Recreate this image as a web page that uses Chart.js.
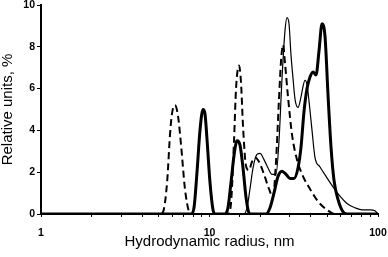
<!DOCTYPE html>
<html>
<head>
<meta charset="utf-8">
<script src="https://cdn.jsdelivr.net/npm/chart.js@4/dist/chart.umd.min.js"></script>
<style>
  html, body { margin: 0; padding: 0; background: #fff; }
  #wrap { width: 388px; height: 257px; }
</style>
</head>
<body>
<div id="wrap"><canvas id="sizeChart"></canvas></div>
<script>
// hydrodynamic radius (nm) and relative units (%)
const dashedRadius = [1, 5.09, 5.30, 5.60, 5.83, 5.99, 6.24, 6.50, 6.78, 7.15, 7.56, 7.77,
  12.87, 13.41, 13.98, 14.37, 14.97, 15.38, 15.81, 16.47, 17.16, 17.87, 18.62, 19.67, 21.06,
  22.55, 23.82, 24.81, 25.85, 26.57, 27.31, 28.07, 29.24, 30.88, 33.06, 35.89, 39.49, 44.06,
  49.82, 55.56, 100];
const dashedValue = [0, 0, 0.1, 1.5, 3.8, 4.8, 5.2, 4.7, 3.3, 1.2, 0.1, 0,
  0, 0.5, 3.5, 6.0, 7.1, 6.3, 4.2, 2.3, 2.1, 2.5, 2.7, 2.5, 1.9,
  1.2, 0.8, 2.5, 5.5, 7.3, 8.1, 7.2, 5.6, 3.8, 2.6, 1.8, 1.2, 0.6,
  0.2, 0, 0];

const thickRadius = [1, 7.77, 8.09, 8.43, 8.78, 9.15, 9.40, 9.66, 10.07, 10.49, 10.78,
  12.36, 12.87, 13.41, 13.98, 14.56, 15.17, 15.81, 16.47, 17.16, 17.63,
  21.64, 22.87, 24.14, 25.50, 26.94, 28.45, 30.05, 31.72, 33.51, 34.92, 36.38, 37.91,
  39.49, 41.15, 42.86, 44.66, 46.53, 48.48, 50.51, 52.62, 54.83, 57.89, 61.99, 65.47, 100];
const thickValue = [0, 0, 0.3, 2.0, 4.0, 5.0, 4.8, 3.6, 1.5, 0.2, 0,
  0, 0.3, 1.5, 2.8, 3.5, 3.3, 2.2, 0.8, 0.05, 0,
  0, 0.3, 1.0, 1.8, 2.05, 1.9, 1.7, 1.7, 2.2, 3.2, 4.9, 6.0,
  6.55, 6.8, 6.65, 7.8, 9.1, 8.5, 5.7, 3.2, 1.6, 0.7, 0.1, 0, 0];

const thinRadius = [1, 16.02, 16.70, 17.39, 18.12, 19.14, 19.94, 21.06, 22.25, 23.49,
  24.81, 25.85, 26.94, 28.07, 28.84, 29.64, 30.46, 31.30, 32.17, 33.51, 34.92, 35.89,
  36.89, 37.91, 38.96, 40.59, 42.28, 45.28, 49.14, 54.07, 59.50, 65.47, 73.04, 80.35,
  89.65, 95.98, 100];
const thinValue = [0, 0, 0.3, 1.2, 2.2, 2.85, 2.9, 2.6, 2.2, 1.9,
  1.9, 3.5, 6.5, 8.8, 9.4, 9.1, 7.6, 6.5, 5.5, 5.1, 5.6, 6.1,
  6.4, 6.2, 5.4, 4.0, 2.7, 2.25, 1.8, 1.3, 0.85, 0.5, 0.3, 0.2,
  0.2, 0.15, 0];

const xLabels = [1, 10, 100];
const yMin = 0, yMax = 10, yStep = 2;

function pts(xs, ys) {
  return xs.map((x, i) => ({ x: x, y: ys[i] }));
}

const lineStyle = {
  borderColor: '#000',
  pointRadius: 0,
  fill: false,
  cubicInterpolationMode: 'monotone'
};

const tickFont = { family: 'Liberation Sans, Arial, sans-serif', size: 10.5, weight: 'bold' };
const titleFont = { family: 'Liberation Sans, Arial, sans-serif', size: 15, lineHeight: 1 };

new Chart(document.getElementById('sizeChart'), {
  type: 'line',
  data: {
    datasets: [
      Object.assign({ data: pts(thinRadius, thinValue), borderWidth: 1.2 }, lineStyle),
      Object.assign({ data: pts(dashedRadius, dashedValue), borderWidth: 2, borderDash: [7, 4] }, lineStyle),
      Object.assign({ data: pts(thickRadius, thickValue), borderWidth: 3 }, lineStyle)
    ]
  },
  options: {
    responsive: true,
    maintainAspectRatio: false,
    animation: false,
    layout: { padding: { top: 5, right: 10, left: 0, bottom: 0 } },
    plugins: { legend: { display: false }, tooltip: { enabled: false } },
    scales: {
      x: {
        type: 'logarithmic',
        min: 1,
        max: 100,
        afterFit: (s) => { s.height = 43; s.paddingLeft = 0; s.paddingRight = 0; },
        grid: { drawOnChartArea: false, drawTicks: true, tickLength: 3, color: '#000', lineWidth: 1 },
        border: { display: true, color: '#000', width: 2 },
        ticks: {
          autoSkip: false,
          maxRotation: 0,
          padding: 10,
          color: '#000',
          font: tickFont,
          callback: (v) => xLabels.includes(v) ? String(v) : ''
        },
        title: {
          display: true,
          text: 'Hydrodynamic radius, nm',
          color: '#000',
          padding: { top: 0, bottom: 8 },
          font: titleFont
        }
      },
      y: {
        min: yMin,
        max: yMax,
        afterFit: (s) => { s.width = 41; s.paddingTop = 0; s.paddingBottom = 0; },
        grid: { drawOnChartArea: false, drawTicks: true, tickLength: 4, color: '#000', lineWidth: 1 },
        border: { display: true, color: '#000', width: 2 },
        ticks: {
          stepSize: yStep,
          padding: 2,
          color: '#000',
          font: tickFont
        },
        title: {
          display: true,
          text: 'Relative units, %',
          color: '#000',
          padding: 0,
          font: titleFont
        }
      }
    }
  }
});
</script>
</body>
</html>
